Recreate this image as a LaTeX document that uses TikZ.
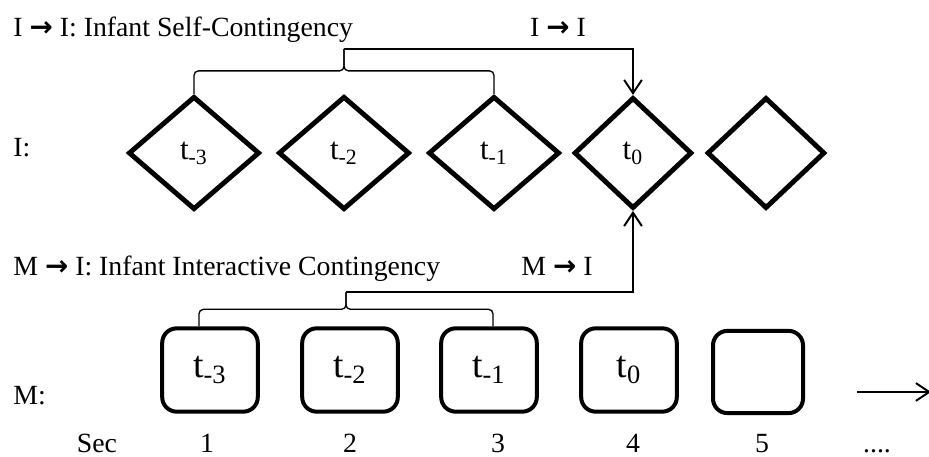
\documentclass[tikz,border=0pt]{standalone}
\usepackage{fontspec}
\setmainfont{Liberation Serif}
\newfontfamily\arrowfont{DejaVu Sans}
\newcommand{\ra}{{\arrowfont\bfseries →}}
\usetikzlibrary{positioning,arrows.meta,shapes.geometric,calc}

\begin{document}
\begin{tikzpicture}[
    x=0.45pt, y=0.45pt,
    >={Straight Barb[length=6pt,width=8pt]},
    every node/.style={font=\fontsize{12.5}{15}\selectfont},
    istate/.style={
        diamond, draw, line width=2.2pt, inner sep=0pt,
        minimum width=#1, minimum height=51pt,
        font=\fontsize{14}{17}\selectfont
    },
    mstate/.style={
        draw, rounded corners=6.5pt, line width=1.8pt, inner sep=0pt,
        minimum width=#1, minimum height=37.5pt,
        font=\fontsize{17}{20}\selectfont
    },
    lbl/.style={anchor=base west, inner sep=0pt},
    bracket/.style={line width=0.6pt, rounded corners=2pt},
    conn/.style={->, line width=0.9pt},
]
\useasboundingbox (0,0) rectangle (929,457);

% === Top Row: Infant ===
\node[lbl] (irow) at (13,300) {I:};
\node[istate=59pt] (i1) at (194,304) {t\textsubscript{-3}};
\node[istate=59pt] (i2) at (344,304) {t\textsubscript{-2}};
\node[istate=59pt] (i3) at (494,304) {t\textsubscript{-1}};
\node[istate=53pt, minimum height=50pt] (i4) at (633,304) {t\textsubscript{0}};
\node[istate=53pt, minimum height=50pt] (i5) at (766,304) {};

% Self-contingency labels
\node[lbl] (iititle) at (13,420) {I \ra{} I: Infant Self-Contingency};
\node[anchor=base, inner sep=0pt] (iilabel) at (558,420) {I \ra{} I};

% === Bottom Row: Mother ===
\node[lbl] (mrow) at (13,52) {M:};
\node[mstate=43pt] (m1) at (210,87) {t\textsubscript{-3}};
\node[mstate=43pt] (m2) at (350,87) {t\textsubscript{-2}};
\node[mstate=43pt] (m3) at (489,87) {t\textsubscript{-1}};
\node[mstate=43pt] (m4) at (629,87) {t\textsubscript{0}};
\node[mstate=40.5pt, minimum height=37pt] (m5) at (758,85) {};

% Interactive-contingency labels
\node[lbl] (mititle) at (13,181) {M \ra{} I: Infant Interactive Contingency};
\node[anchor=base, inner sep=0pt] (milabel) at (557,181) {M \ra{} I};

% === Seconds ===
\node[anchor=base, inner sep=0pt] (sec) at (97,4) {Sec};
\foreach \n/\x in {1/207, 2/350, 3/498, 4/633, 5/762}
    \node[anchor=base, inner sep=0pt] (s\n) at (\x,4) {\n};
\node[anchor=base, inner sep=0pt] (sdots) at (877,4) {....};

% time arrow
\coordinate (tstart) at (857,65);
\coordinate (tend) at (931,65);
\draw[conn] (tstart) -- (tend);

% === Brackets ===
\coordinate (itip) at ($(i1.north)!0.5!(i3.north)+(0,45)$);
\draw[bracket] (i1.north) |- ($(itip)+(0,-22)$) -- (itip);
\draw[bracket] (i3.north) |- ($(itip)+(0,-22)$) -- (itip);

\coordinate (ml) at ($(m1.north)+(-11,0)$);
\coordinate (mr) at ($(m3.north)+(4,0)$);
\coordinate (mtip) at ($(ml)!0.5!(mr)+(0,34)$);
\draw[bracket] (ml) |- ($(mtip)+(0,-17)$) -- (mtip);
\draw[bracket] (mr) |- ($(mtip)+(0,-17)$) -- (mtip);

% === Arrows ===
% I -> I
\draw[conn] (itip) -| (i4.north);
% M -> I
\draw[conn] (mtip) -| (i4.south);

\end{tikzpicture}
\end{document}
